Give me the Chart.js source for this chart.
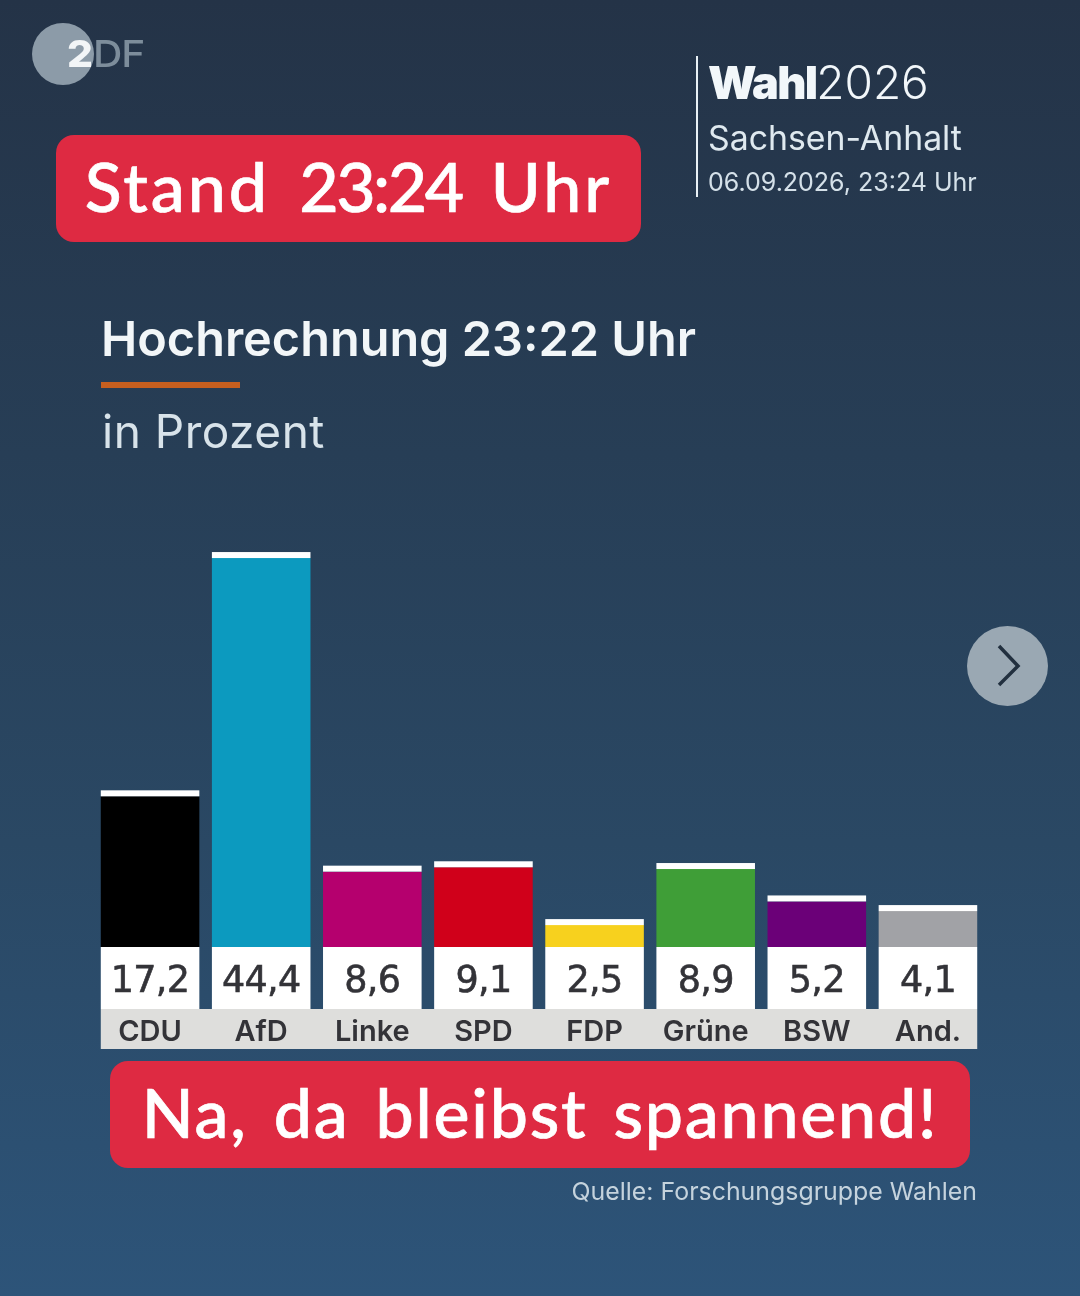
<!DOCTYPE html>
<html lang="de">
<head>
<meta charset="UTF-8">
<title>Hochrechnung Sachsen-Anhalt</title>
<script src="https://cdn.jsdelivr.net/npm/chart.js"></script>
<style>
    html, body { margin: 0; padding: 0; }
    body {
        width: 1080px; height: 1296px; position: relative; overflow: hidden;
        background: linear-gradient(180deg, #243347 0%, #273e56 35%, #2a4864 65%, #2d5479 100%);
        font-family: Inter, sans-serif; color: #fff;
    }
    canvas { position: absolute; left: 0; top: 0; }
    .abs { position: absolute; white-space: nowrap; }
    .red {
        position: absolute; background: #de2a42; border-radius: 18px; text-align: center;
        font-family: Lato, sans-serif; font-weight: 500; color: #fff; font-size: 68px;
        white-space: nowrap; -webkit-text-stroke: 0.7px #fff;
    }
    #logo { left: 32px; top: 23px; width: 62px; height: 62px; border-radius: 50%; background: #8c9ba8; }
    #next { left: 967px; top: 626px; width: 81px; height: 80px; border-radius: 50%; background: #9aa8b3; }
    #divider { left: 696px; top: 56px; width: 2px; height: 141px; background: #e8f0f5; }
    #rule { left: 101px; top: 382px; width: 139px; height: 6px; background: #c65f1f; }
</style>
</head>
<body>
<canvas id="resultsChart" width="1080" height="1296"></canvas>

<div class="abs" id="logo"></div>
<div class="abs" style="left:67px;top:32px;font:800 37px/44px Inter;color:#f2f5f7;transform:scaleX(1.1);transform-origin:left">2</div>
<div class="abs" style="left:93px;top:32px;font:500 37px/44px Inter;color:#7d8d9b;letter-spacing:-1px;transform:scaleX(1.1);transform-origin:left">DF</div>

<div class="red" style="left:56px;top:135px;width:585px;height:107px;line-height:101px;word-spacing:12px"><span style="letter-spacing:3px">Stand</span> <span style="letter-spacing:-2.5px">23:24</span> <span style="letter-spacing:3px">Uhr</span></div>

<div class="abs" id="divider"></div>
<div class="abs" style="left:708px;top:52px;font:300 46px/60px Inter;color:#f2f7fa"><b style="font-weight:900;font-size:45px;letter-spacing:-1.75px">Wahl</b>2026</div>
<div class="abs" style="left:708px;top:117px;font:400 33.8px/42px Inter;color:#dfe9ef">Sachsen-Anhalt</div>
<div class="abs" style="left:708px;top:166px;font:400 25px/32px Inter;color:#d5e1e9">06.09.2026, 23:24 Uhr</div>

<div class="abs" style="left:101px;top:310px;font:600 48.6px/58px Inter;color:#f2f6f8">Hochrechnung 23:22 Uhr</div>
<div class="abs" id="rule"></div>
<div class="abs" style="left:102px;top:403px;font:400 46px/56px Inter;letter-spacing:0.5px;color:#d8e3ea">in Prozent</div>

<div class="abs" id="next"></div>
<svg class="abs" style="left:967px;top:626px" width="80" height="80" viewBox="0 0 80 80">
    <path d="M32 20 L51 40 L32 59" fill="none" stroke="#22303f" stroke-width="3.5"/>
</svg>

<div class="red" style="left:110px;top:1061px;width:860px;height:107px;line-height:102px;letter-spacing:1.8px;word-spacing:7px">Na, da bleibst spannend!</div>

<div class="abs" style="right:103px;top:1176px;font:400 24.9px/30px Inter;color:#c5d3dd">Quelle: Forschungsgruppe Wahlen</div>

<script>
    const parties = ['CDU', 'AfD', 'Linke', 'SPD', 'FDP', 'Grüne', 'BSW', 'And.'];
    const values = [17.2, 44.4, 8.6, 9.1, 2.5, 8.9, 5.2, 4.1];
    const partyColors = ['#000000', '#0c9abf', '#b5006e', '#d0001a', '#f7d11e', '#3f9e37', '#6b0078', '#a1a2a6'];

    const baseY = 947;
    const capHeight = 6;

    // white cap on top of each bar, value box below it, grey strip behind the party names
    const partyLabels = {
        id: 'partyLabels',
        beforeDraw(chart) {
            const bars = chart.getDatasetMeta(0).data;
            const left = bars[0].x - bars[0].width / 2;
            const last = bars[bars.length - 1];
            const ctx = chart.ctx;
            ctx.fillStyle = '#dededc';
            ctx.fillRect(left, 1009, last.x + last.width / 2 - left, 40);
        },
        afterDatasetsDraw(chart) {
            const ctx = chart.ctx;
            ctx.save();
            chart.getDatasetMeta(0).data.forEach((bar, i) => {
                const x = bar.x - bar.width / 2;
                ctx.fillStyle = '#ffffff';
                ctx.fillRect(x, bar.y - capHeight, bar.width, capHeight);
                ctx.fillRect(x, baseY, bar.width, 62);
                ctx.fillStyle = '#333338';
                ctx.strokeStyle = '#333338';
                ctx.lineWidth = 0.6;
                ctx.font = '36.5px "DejaVu Sans"';
                ctx.letterSpacing = '-0.7px';
                ctx.textAlign = 'center';
                ctx.textBaseline = 'middle';
                const label = values[i].toFixed(1).replace('.', ',');
                ctx.fillText(label, bar.x, 983);
                ctx.strokeText(label, bar.x, 983);
            });
            ctx.restore();
        }
    };

    new Chart(document.getElementById('resultsChart'), {
        type: 'bar',
        data: {
            labels: parties,
            datasets: [{
                data: values,
                backgroundColor: partyColors,
                barPercentage: 0.887,
                categoryPercentage: 1
            }]
        },
        options: {
            responsive: false,
            animation: false,
            layout: { padding: { left: 94.5, right: 96.5, top: 509, bottom: 247 } },
            plugins: { legend: { display: false }, tooltip: { enabled: false } },
            scales: {
                x: {
                    grid: { display: false },
                    border: { display: false },
                    afterFit: (scale) => { scale.height = 102; },
                    ticks: {
                        color: '#333338',
                        font: { family: 'Inter', size: 29, weight: '600' },
                        padding: 60,
                        maxRotation: 0,
                        autoSkip: false
                    }
                },
                y: { display: false, min: 0, max: 50 }
            }
        },
        plugins: [partyLabels]
    });
</script>
</body>
</html>
